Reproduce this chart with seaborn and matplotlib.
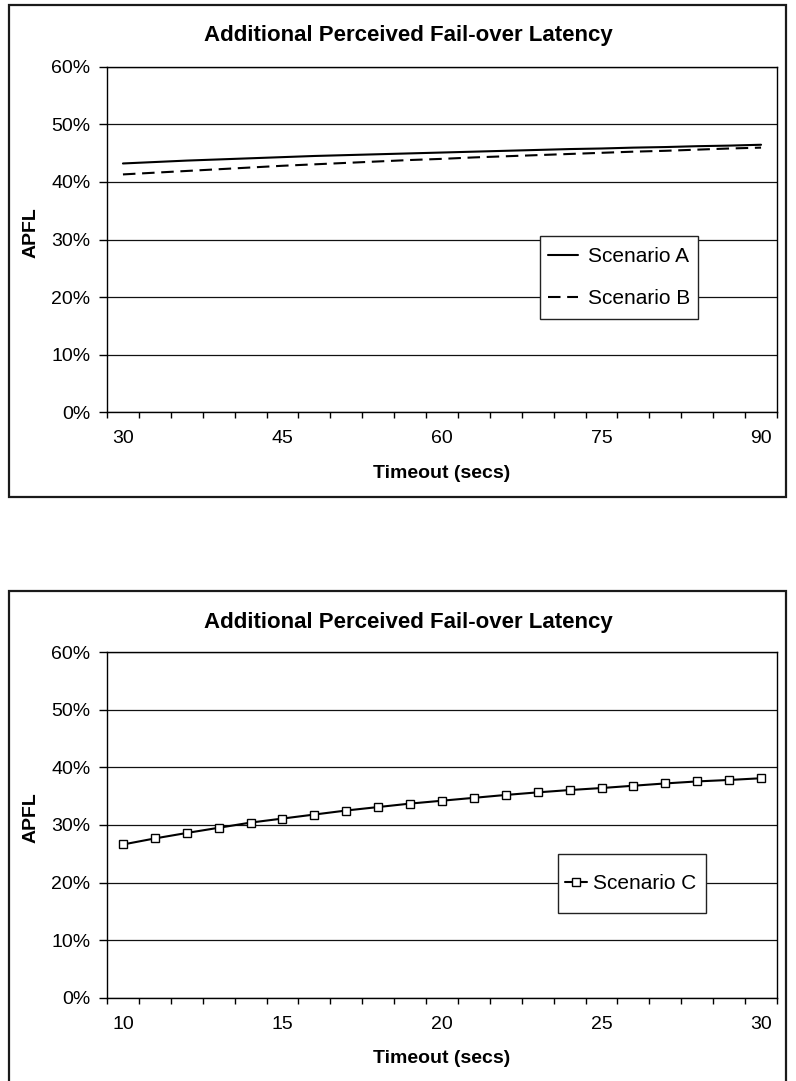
import matplotlib
matplotlib.use("Agg")
import numpy as np
import pandas as pd
import matplotlib.pyplot as plt
from matplotlib.patches import Rectangle
from matplotlib.ticker import FixedLocator, FixedFormatter, NullFormatter
import seaborn as sns

# ---- data -------------------------------------------------------------
timeout_long = [30, 33, 36, 39, 42, 45, 48, 51, 54, 57, 60,
                63, 66, 69, 72, 75, 78, 81, 84, 87, 90]
apfl_a = [43.2, 43.45, 43.7, 43.9, 44.1, 44.3, 44.5, 44.65, 44.8, 44.95, 45.1,
          45.25, 45.4, 45.55, 45.7, 45.8, 45.95, 46.05, 46.2, 46.3, 46.45]
apfl_b = [41.3, 41.6, 41.9, 42.2, 42.5, 42.8, 43.05, 43.3, 43.55, 43.8, 44.0,
          44.25, 44.45, 44.65, 44.85, 45.05, 45.25, 45.4, 45.6, 45.8, 45.95]

timeout_short = [10, 11, 12, 13, 14, 15, 16, 17, 18, 19, 20,
                 21, 22, 23, 24, 25, 26, 27, 28, 29, 30]
apfl_c = [26.6, 27.65, 28.6, 29.5, 30.4, 31.1, 31.8, 32.5, 33.1, 33.7, 34.2,
          34.7, 35.2, 35.65, 36.05, 36.4, 36.8, 37.2, 37.55, 37.8, 38.1]

y_ticks = [0, 10, 20, 30, 40, 50, 60]
label_every = 5
chart_title = "Additional Perceived Fail-over Latency"
x_title = "Timeout (secs)"
y_title = "APFL"

# ---- style ------------------------------------------------------------
sns.set_style("white")
plt.rcParams["font.family"] = ["Liberation Sans", "DejaVu Sans"]
plt.rcParams.update({"text.color": "black", "axes.labelcolor": "black",
                     "xtick.color": "black", "ytick.color": "black"})
TICK_FS = 14
LEG_FS = 15
LAB_FS = 14

W, H = 796, 1081
fig = plt.figure(figsize=(W / 100, H / 100), dpi=100)


def fx(px):
    return px / W


def fy(py):
    return 1 - py / H


def setup_axes(ax, categories):
    n = len(categories)
    ax.set_xlim(-0.5, n - 0.5)
    ax.set_ylim(0, 60)
    # category boundaries carry the tick marks, labels sit at category centres
    ax.xaxis.set_major_locator(FixedLocator(np.arange(-0.5, n, 1.0)))
    ax.xaxis.set_major_formatter(NullFormatter())
    lab_pos = list(range(0, n, label_every))
    ax.xaxis.set_minor_locator(FixedLocator(lab_pos))
    ax.xaxis.set_minor_formatter(FixedFormatter([str(categories[i]) for i in lab_pos]))
    ax.tick_params(axis="x", which="major", direction="out", length=4.5,
                   width=1.0, color="black", bottom=True)
    ax.tick_params(axis="x", which="minor", length=0, pad=13,
                   labelsize=TICK_FS, bottom=True)
    ax.yaxis.set_major_locator(FixedLocator(y_ticks))
    ax.yaxis.set_major_formatter(FixedFormatter([f"{v}%" for v in y_ticks]))
    ax.tick_params(axis="y", direction="out", length=6, width=1.0,
                   color="black", pad=6, labelsize=TICK_FS, left=True)
    ax.grid(axis="y", color="#111111", linewidth=0.9)
    ax.grid(axis="x", visible=False)
    ax.set_axisbelow(True)
    for sp in ax.spines.values():
        sp.set_visible(True)
        sp.set_color("black")
        sp.set_linewidth(1.0)
    ax.set_xlabel(x_title, fontsize=LAB_FS, fontweight="bold")
    ax.set_ylabel(y_title, fontsize=LAB_FS, fontweight="bold")
    ax.xaxis.set_label_coords(0.5, -0.152)
    ax.yaxis.set_label_coords(-0.100, 0.52)


def legend_box(ax, x0, y0, w, h):
    ax.add_patch(Rectangle((x0, y0), w, h, transform=ax.transAxes,
                           facecolor="white", edgecolor="#222222",
                           linewidth=1.0, zorder=4, clip_on=False))


# ---- top panel: scenarios A and B ------------------------------------
fig.add_artist(Rectangle((fx(9), fy(497)), fx(777), (497 - 5) / H,
                         transform=fig.transFigure, fill=False,
                         edgecolor="#1a1a1a", linewidth=1.6))
ax1 = fig.add_axes([fx(107), fy(412.3), fx(670), 345.6 / H])

df_ab = pd.DataFrame({
    "pos": list(range(len(timeout_long))) * 2,
    "APFL": apfl_a + apfl_b,
    "Scenario": ["Scenario A"] * len(apfl_a) + ["Scenario B"] * len(apfl_b),
})
sns.lineplot(data=df_ab, x="pos", y="APFL", style="Scenario",
             dashes={"Scenario A": "", "Scenario B": (6, 3.2)},
             color="black", linewidth=1.5, legend=False, ax=ax1, zorder=3)
setup_axes(ax1, timeout_long)

legend_box(ax1, 0.646, 0.270, 0.236, 0.240)
h1 = ax1.lines[:2]
leg1 = ax1.legend(h1, ["Scenario A", "Scenario B"], loc="center",
                  bbox_to_anchor=(0.764, 0.390), frameon=False,
                  fontsize=LEG_FS, handlelength=1.45, handletextpad=0.45,
                  labelspacing=1.1, borderpad=0)
leg1.set_zorder(5)

fig.text(fx(408), fy(41), chart_title, ha="center", va="baseline",
         fontsize=16, fontweight="bold")

# ---- bottom panel: scenario C ----------------------------------------
fig.add_artist(Rectangle((fx(9), fy(1085)), fx(777), (1085 - 591) / H,
                         transform=fig.transFigure, fill=False,
                         edgecolor="#1a1a1a", linewidth=1.6))
ax2 = fig.add_axes([fx(107), fy(997.7), fx(670), 345.6 / H])

df_c = pd.DataFrame({"pos": range(len(timeout_short)), "APFL": apfl_c})
sns.lineplot(data=df_c, x="pos", y="APFL", color="black", linewidth=1.5,
             marker="s", markersize=5.5, markerfacecolor="white",
             markeredgecolor="black", markeredgewidth=1.0,
             legend=False, ax=ax2, zorder=3)
setup_axes(ax2, timeout_short)

legend_box(ax2, 0.673, 0.2455, 0.221, 0.171)
leg2 = ax2.legend(ax2.lines[:1], ["Scenario C"], loc="center",
                  bbox_to_anchor=(0.782, 0.331), frameon=False,
                  fontsize=LEG_FS, handlelength=1.05, handletextpad=0.3,
                  borderpad=0)
leg2.set_zorder(5)

fig.text(fx(408), fy(627.6), chart_title, ha="center", va="baseline",
         fontsize=16, fontweight="bold")

fig.savefig("out.png", dpi=100)
